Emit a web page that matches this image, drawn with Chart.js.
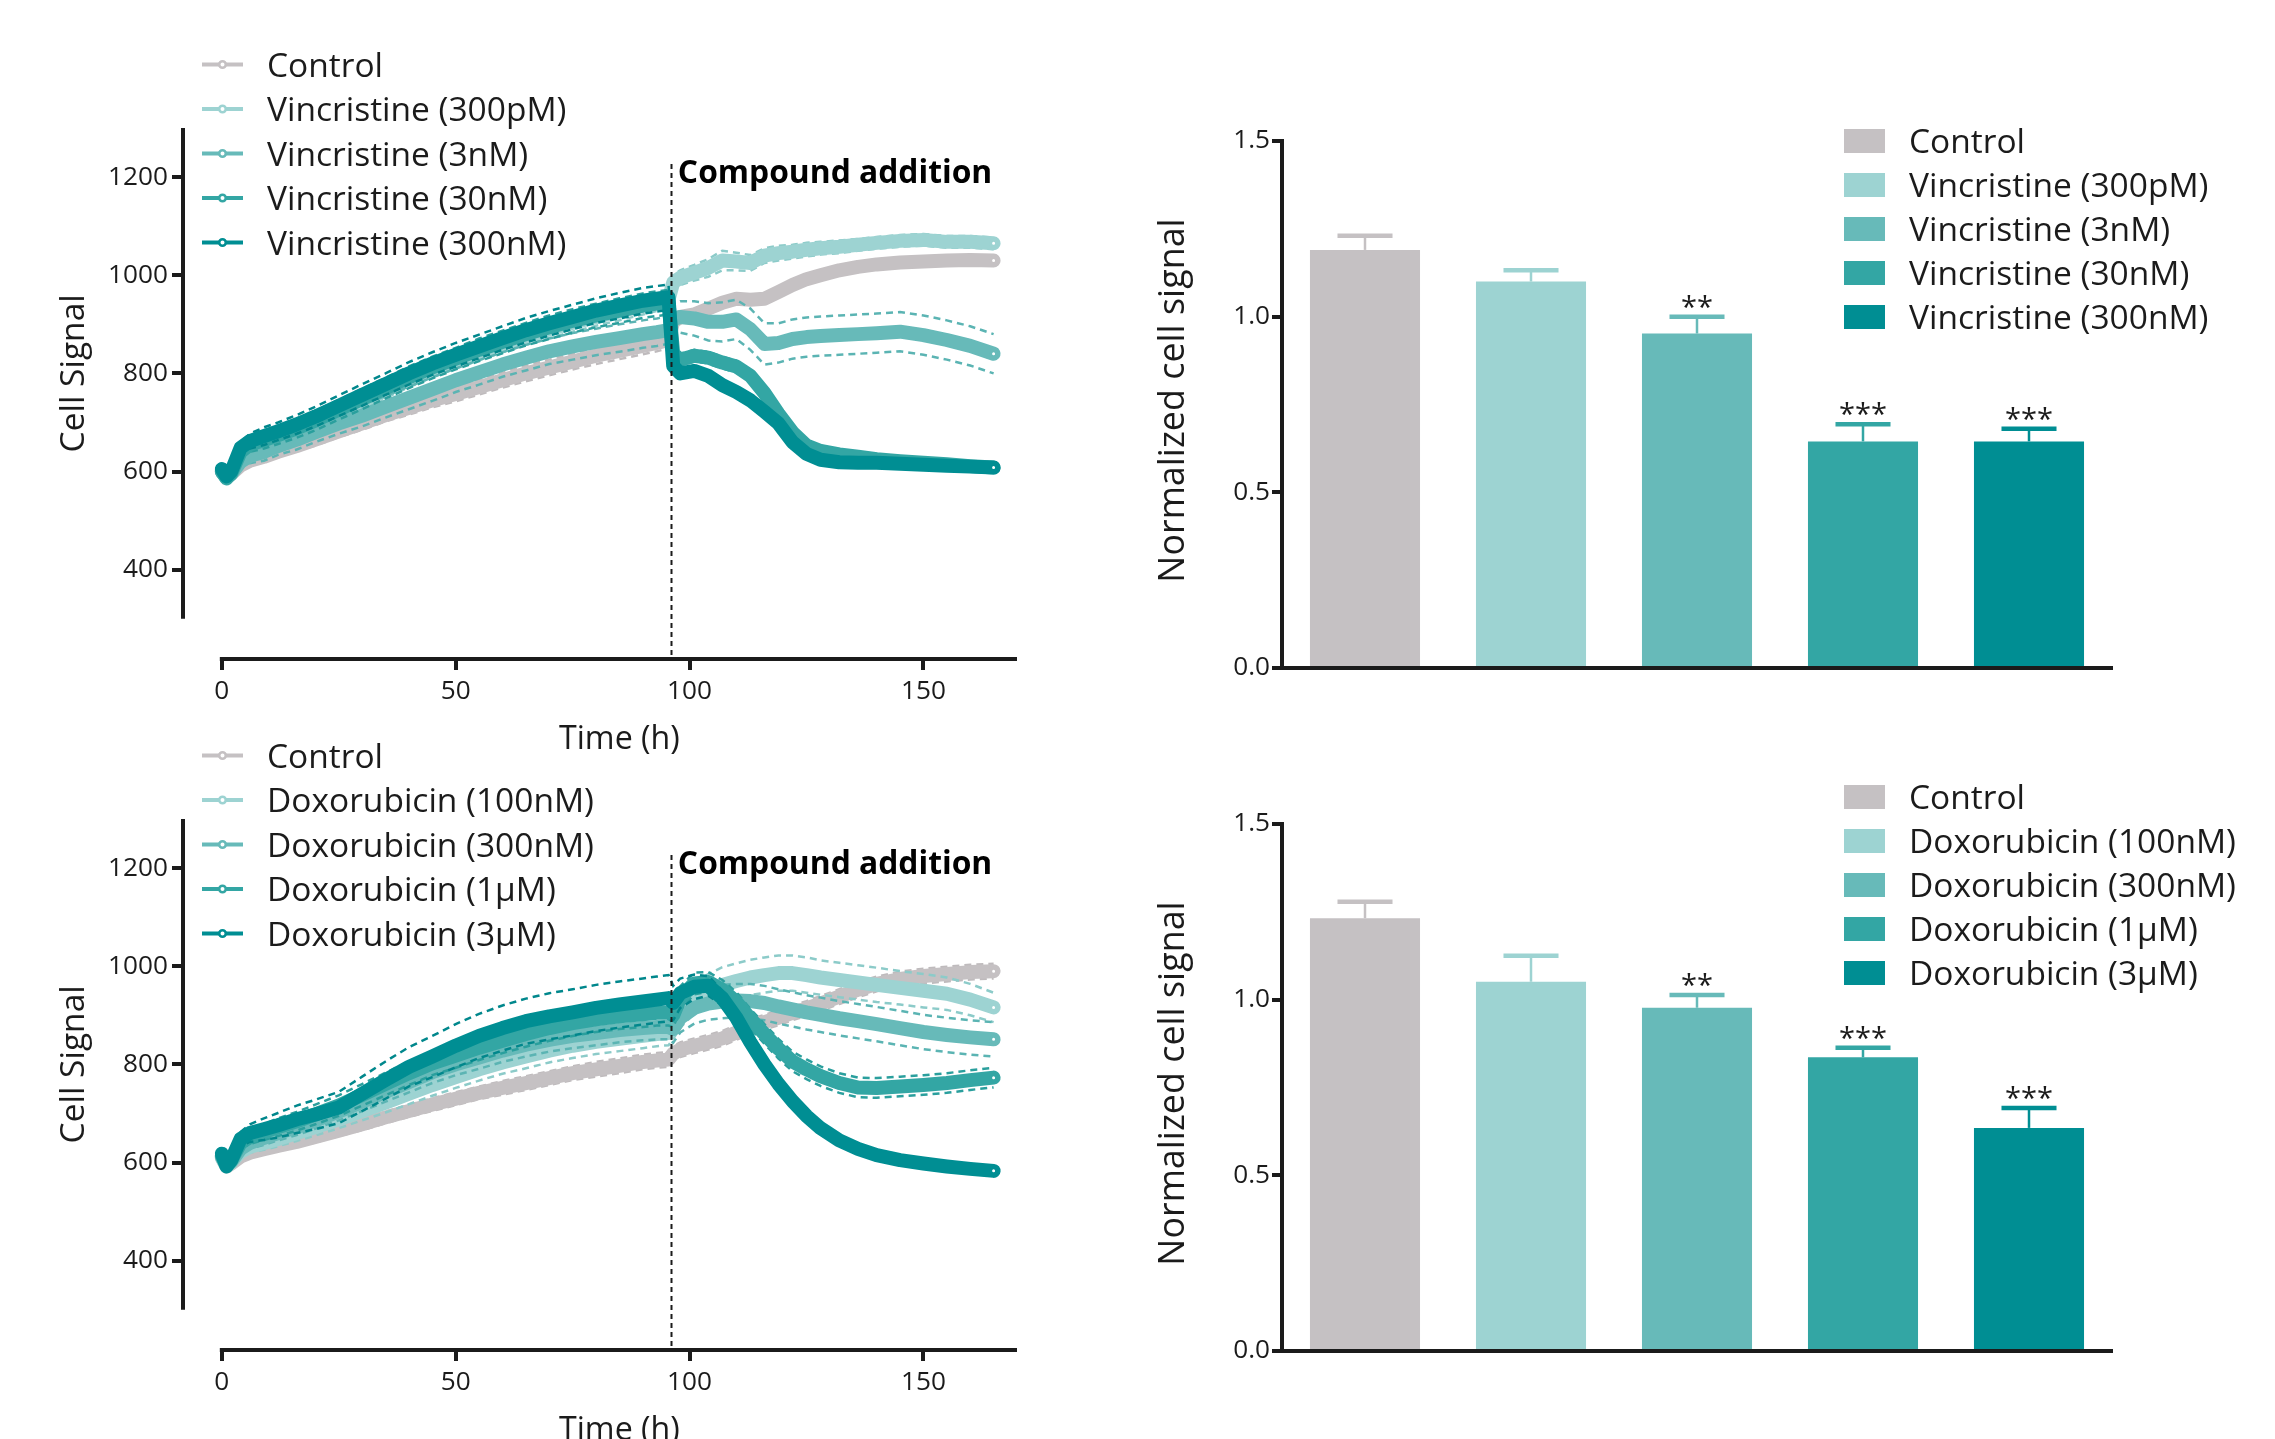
<!DOCTYPE html>
<html>
<head>
<meta charset="utf-8">
<title>Cell signal – vincristine / doxorubicin</title>
<script src="https://cdn.jsdelivr.net/npm/chart.js@4.4.1/dist/chart.umd.min.js"></script>
<style>
    html, body { margin: 0; padding: 0; background: #ffffff; }
    body { width: 2275px; height: 1439px; overflow: hidden; position: relative; }
    canvas { position: absolute; }
</style>
</head>
<body>
<canvas id="vinLine" width="1100" height="760" style="left:0;top:0"></canvas>
<canvas id="doxLine" width="1100" height="760" style="left:0;top:691px"></canvas>
<canvas id="vinBar" width="1175" height="700" style="left:1100px;top:0"></canvas>
<canvas id="doxBar" width="1175" height="700" style="left:1100px;top:683px"></canvas>
<script>
// ---- data ----
const hours = [0, 1, 2, 4, 6, 9, 12, 16, 20, 25, 30, 35, 40, 45, 50, 55, 60, 65, 70, 75, 80, 85, 90, 93, 95.5,
    96.5, 98, 101, 104, 107, 110, 113, 116, 119, 122, 125, 128, 132, 136, 140, 145, 150, 155, 160, 165];

const vinLabels = ['Control', 'Vincristine (300pM)', 'Vincristine (3nM)', 'Vincristine (30nM)', 'Vincristine (300nM)'];
const doxLabels = ['Control', 'Doxorubicin (100nM)', 'Doxorubicin (300nM)', 'Doxorubicin (1µM)', 'Doxorubicin (3µM)'];

const vinControl = [600, 588, 595, 612, 622, 630, 640, 652, 665, 682, 698, 715, 730, 745, 758, 772, 786, 800, 812, 824, 836, 846, 856, 862, 868,
    905, 915, 920, 932, 944, 952, 950, 952, 966, 980, 992, 1000, 1010, 1017, 1022, 1026, 1028, 1030, 1031, 1030];
const vin300pM = [600, 588, 598, 630, 645, 655, 665, 680, 698, 720, 742, 765, 788, 808, 826, 844, 860, 875, 890, 903, 915, 926, 938, 945, 950,
    985, 995, 1005, 1015, 1030, 1028, 1025, 1040, 1045, 1048, 1052, 1055, 1058, 1062, 1066, 1070, 1072, 1068, 1068, 1065];
const vin3nM = [600, 588, 595, 620, 632, 640, 652, 665, 680, 698, 714, 732, 750, 768, 786, 802, 818, 832, 845, 855, 864, 872, 880, 884, 888,
    910, 915, 912, 905, 905, 910, 890, 860, 862, 870, 874, 876, 878, 880, 882, 885, 878, 868, 856, 840];
const vin30nM = [600, 586, 596, 640, 655, 664, 674, 688, 704, 726, 748, 770, 792, 812, 830, 848, 864, 880, 894, 907, 918, 928, 938, 942, 945,
    840, 828, 836, 832, 822, 814, 795, 760, 718, 680, 653, 642, 635, 630, 625, 621, 618, 615, 611, 608];
const vin300nM = [605, 590, 600, 648, 662, 672, 682, 696, 712, 734, 756, 778, 800, 820, 838, 855, 872, 888, 902, 915, 928, 938, 948, 952, 955,
    815, 800, 805, 795, 776, 762, 745, 722, 698, 660, 636, 624, 619, 618, 618, 616, 614, 612, 610, 608];

const vinControlSd = [4, 4, 5, 6, 8, 10, 10, 11, 12, 12, 13, 13, 14, 14, 15, 15, 15, 16, 16, 16, 17, 17, 17, 17, 17,
    10, 10, 10, 10, 10, 10, 10, 10, 10, 10, 10, 10, 9, 9, 9, 9, 9, 9, 9, 9];
const vin300pMSd = [5, 5, 6, 8, 10, 12, 12, 13, 14, 14, 15, 15, 16, 16, 16, 17, 17, 17, 18, 18, 18, 18, 18, 18, 18,
    15, 15, 16, 18, 20, 18, 16, 15, 15, 14, 14, 13, 13, 12, 12, 12, 12, 12, 12, 12];
const vin3nMSd = [5, 5, 8, 12, 15, 18, 18, 20, 20, 21, 22, 22, 23, 24, 24, 25, 25, 26, 26, 27, 27, 28, 28, 28, 28,
    30, 32, 35, 38, 40, 40, 42, 42, 40, 40, 40, 40, 40, 40, 40, 40, 40, 40, 40, 40];
const vin30nMSd = [5, 5, 8, 12, 15, 17, 18, 19, 20, 20, 21, 21, 22, 22, 22, 23, 23, 23, 24, 24, 24, 25, 25, 25, 25,
    12, 12, 12, 12, 12, 12, 12, 12, 10, 10, 10, 8, 8, 8, 8, 8, 8, 8, 8, 8];
const vin300nMSd = [5, 5, 8, 12, 15, 18, 18, 19, 20, 21, 22, 22, 23, 23, 24, 24, 24, 25, 25, 25, 25, 26, 26, 26, 26,
    12, 10, 10, 10, 10, 10, 10, 10, 10, 8, 8, 8, 8, 6, 6, 6, 6, 6, 6, 6];

const doxControl = [610, 592, 598, 612, 620, 627, 634, 642, 652, 665, 678, 692, 705, 718, 730, 742, 752, 762, 772, 782, 790, 797, 805, 808, 810,
    822, 830, 838, 845, 853, 865, 877, 886, 895, 905, 914, 924, 938, 952, 964, 974, 980, 984, 988, 990];
const dox100nM = [610, 592, 600, 622, 632, 640, 648, 660, 672, 688, 705, 722, 740, 758, 774, 790, 804, 816, 828, 838, 846, 852, 858, 862, 864,
    880, 905, 935, 950, 962, 970, 977, 982, 986, 986, 982, 977, 972, 967, 962, 956, 950, 944, 932, 916];
const dox300nM = [612, 594, 602, 628, 640, 650, 660, 672, 686, 704, 724, 744, 764, 784, 800, 814, 828, 840, 850, 858, 864, 870, 874, 876, 876,
    872, 895, 915, 924, 928, 930, 929, 925, 918, 912, 906, 901, 894, 888, 882, 874, 866, 860, 855, 851];
const dox1uM = [614, 594, 604, 640, 652, 662, 672, 684, 698, 716, 738, 760, 782, 802, 818, 834, 848, 862, 874, 884, 892, 898, 902, 905, 905,
    900, 935, 965, 968, 952, 927, 893, 862, 832, 806, 790, 776, 762, 753, 752, 755, 758, 762, 768, 773];
const dox3uM = [618, 592, 605, 648, 660, 668, 676, 688, 698, 712, 740, 768, 795, 816, 838, 858, 874, 888, 898, 906, 915, 922, 928, 932, 935,
    925, 945, 958, 960, 935, 895, 845, 800, 760, 725, 695, 670, 645, 628, 615, 605, 598, 592, 587, 583];

const doxControlSd = [4, 4, 5, 6, 8, 9, 10, 10, 11, 11, 12, 12, 12, 13, 13, 13, 14, 14, 14, 14, 15, 15, 15, 15, 15,
    15, 15, 15, 15, 15, 15, 15, 15, 15, 15, 15, 15, 15, 15, 15, 15, 15, 15, 15, 15];
const dox100nMSd = [5, 5, 8, 10, 12, 14, 15, 16, 17, 18, 19, 20, 21, 22, 22, 23, 23, 24, 24, 25, 25, 25, 25, 25, 25,
    28, 30, 32, 34, 36, 36, 36, 36, 36, 36, 36, 35, 35, 35, 35, 34, 34, 33, 32, 30];
const dox300nMSd = [5, 5, 8, 10, 12, 14, 15, 16, 17, 18, 19, 20, 21, 22, 22, 23, 23, 24, 24, 25, 25, 25, 25, 25, 25,
    28, 30, 32, 33, 34, 34, 35, 35, 35, 35, 35, 35, 35, 35, 35, 35, 35, 35, 35, 35];
const dox1uMSd = [5, 5, 8, 12, 14, 16, 18, 19, 20, 21, 22, 23, 24, 24, 25, 25, 25, 26, 26, 26, 26, 26, 26, 26, 26,
    24, 24, 22, 20, 20, 20, 20, 20, 20, 20, 20, 20, 20, 20, 20, 20, 20, 20, 20, 20];
const dox3uMSd = [6, 6, 10, 14, 18, 22, 25, 28, 30, 32, 35, 38, 40, 42, 44, 45, 46, 46, 47, 47, 47, 47, 47, 47, 47,
    35, 30, 25, 20, 15, 12, 10, 8, 8, 8, 6, 6, 6, 6, 5, 5, 5, 5, 5, 5];

// bar charts: normalized cell signal, mean and upper error
const vinBarMeans = [1.19, 1.10, 0.952, 0.645, 0.645];
const vinBarErrors = [0.04, 0.032, 0.048, 0.049, 0.036];
const vinBarStars = ['', '', '**', '***', '***'];
const doxBarMeans = [1.232, 1.051, 0.977, 0.836, 0.635];
const doxBarErrors = [0.047, 0.074, 0.036, 0.027, 0.057];
const doxBarStars = ['', '', '**', '***', '***'];

const lineYTicks = [400, 600, 800, 1000, 1200];
const lineXTicks = [0, 50, 100, 150];
const barYTicks = [0, 0.5, 1.0, 1.5];
const additionTime = 96;

// ---- style ----
const seriesColors = ['#c5c1c3', '#9dd3d2', '#67bab9', '#33a6a4', '#008e93'];
const dashColors = ['#bfbbbd', '#8ccbc9', '#5bb4b3', '#2a9f9d', '#00878c'];
const INK = '#1b1b1b';
const FAMILY = '"Open Sans", "DejaVu Sans", sans-serif';

const measureCtx = document.createElement('canvas').getContext('2d');
function fitFont(text, target, weight) {
    measureCtx.font = `${weight || 'normal'} 100px ${FAMILY}`;
    return Math.round(1000 * target / measureCtx.measureText(text).width) / 10;
}
const legendSize = fitFont('Vincristine (300pM)', 299);
const tickSize = fitFont('1200', 60);
const yTitleSize = fitFont('Cell Signal', 158);
const xTitleSize = fitFont('Time (h)', 121);
const barTitleSize = fitFont('Normalized cell signal', 364);
const addSize = fitFont('Compound addition', 314, 'bold');
const starSize = fitFont('***', 48);

function drawCenteredText(ctx, text, x, cy) {
    const m = ctx.measureText(text);
    ctx.fillText(text, x, cy + (m.actualBoundingBoxAscent - m.actualBoundingBoxDescent) / 2);
}

// ---- line panels ----
const linePanelPlugin = {
    id: 'linePanel',
    afterDatasetsDraw(chart) {
        const {ctx, chartArea, scales: {x}} = chart;
        const px = Math.round(x.getPixelForValue(additionTime)) + 0.5;
        ctx.save();
        ctx.strokeStyle = INK;
        ctx.lineWidth = 2;
        ctx.setLineDash([5, 4]);
        ctx.beginPath();
        ctx.moveTo(px, chartArea.top + 36);
        ctx.lineTo(px, chartArea.bottom);
        ctx.stroke();
        ctx.restore();
    },
    afterDraw(chart, args, opts) {
        const {ctx, chartArea, scales: {x, y}} = chart;
        ctx.save();
        ctx.strokeStyle = INK;
        ctx.lineWidth = 4;
        ctx.beginPath();
        ctx.moveTo(chartArea.left, y.getPixelForValue(300));
        ctx.lineTo(chartArea.left, y.getPixelForValue(1300));
        ctx.moveTo(x.getPixelForValue(0) - 2, chartArea.bottom);
        ctx.lineTo(x.getPixelForValue(170), chartArea.bottom);
        ctx.stroke();

        ctx.fillStyle = '#000000';
        ctx.font = `bold ${addSize}px ${FAMILY}`;
        ctx.textAlign = 'left';
        ctx.textBaseline = 'alphabetic';
        ctx.fillText('Compound addition', x.getPixelForValue(additionTime) + 7, chartArea.top + 55);

        ctx.fillStyle = INK;
        ctx.font = `${yTitleSize}px ${FAMILY}`;
        ctx.textAlign = 'center';
        ctx.save();
        ctx.translate(75, (y.getPixelForValue(300) + y.getPixelForValue(1300)) / 2);
        ctx.rotate(-Math.PI / 2);
        drawCenteredText(ctx, 'Cell Signal', 0, 0);
        ctx.restore();

        ctx.font = `${xTitleSize}px ${FAMILY}`;
        drawCenteredText(ctx, 'Time (h)', (x.getPixelForValue(0) + x.getPixelForValue(170)) / 2, 739);

        // legend
        ctx.font = `${legendSize}px ${FAMILY}`;
        ctx.textAlign = 'left';
        opts.labels.forEach((label, i) => {
            const ry = 64.5 + i * 44.5;
            ctx.strokeStyle = seriesColors[i];
            ctx.lineWidth = 4;
            ctx.beginPath();
            ctx.moveTo(202, ry);
            ctx.lineTo(243, ry);
            ctx.stroke();
            ctx.beginPath();
            ctx.arc(222.5, ry, 3.3, 0, Math.PI * 2);
            ctx.fillStyle = '#ffffff';
            ctx.fill();
            ctx.lineWidth = 2.6;
            ctx.stroke();
            ctx.fillStyle = INK;
            const m = ctx.measureText('C');
            ctx.fillText(label, 267, ry + m.actualBoundingBoxAscent / 2);
        });
        ctx.restore();
    }
};

function buildLineDatasets(series, sds, labels) {
    const sets = [];
    const last = hours.length - 1;
    series.forEach((vals, i) => {
        const color = seriesColors[i];
        const order = (series.length - i) * 2;
        sets.push({
            label: labels[i],
            data: hours.map((h, k) => ({x: h, y: vals[k]})),
            borderColor: color,
            borderWidth: 14,
            borderCapStyle: 'round',
            borderJoinStyle: 'round',
            tension: 0,
            order: order,
            pointRadius: ctx => ctx.dataIndex === last ? 3 : 0,
            pointBorderWidth: 3,
            pointBackgroundColor: '#ffffff',
            pointBorderColor: color
        });
        [1, -1].forEach(sign => {
            sets.push({
                label: labels[i] + (sign > 0 ? ' +SD' : ' -SD'),
                data: hours.map((h, k) => ({x: h, y: vals[k] + sign * sds[i][k]})),
                borderColor: dashColors[i],
                borderWidth: 2.5,
                borderDash: [7, 5],
                tension: 0,
                pointRadius: 0,
                order: order + 1
            });
        });
    });
    return sets;
}

function lineConfig(series, sds, labels) {
    const tickStyle = {display: true, drawOnChartArea: false, drawTicks: true, tickLength: 11, lineWidth: 4, color: INK};
    return {
        type: 'line',
        data: {datasets: buildLineDatasets(series, sds, labels)},
        options: {
            responsive: false,
            animation: false,
            events: [],
            layout: {padding: {top: 128, right: 83, left: 0, bottom: 0}, autoPadding: false},
            plugins: {legend: {display: false}, tooltip: {enabled: false}, linePanel: {labels: labels}},
            scales: {
                x: {
                    type: 'linear', min: -8.3, max: 170,
                    afterBuildTicks: s => { s.ticks = lineXTicks.map(v => ({value: v})); },
                    afterFit: s => { s.height = 101; },
                    grid: tickStyle,
                    border: {display: false},
                    ticks: {color: INK, padding: 6, maxRotation: 0, font: {family: FAMILY, size: tickSize}, callback: v => String(v)}
                },
                y: {
                    type: 'linear', min: 218, max: 1300,
                    afterBuildTicks: s => { s.ticks = lineYTicks.map(v => ({value: v})); },
                    afterFit: s => { s.width = 183; },
                    grid: tickStyle,
                    border: {display: false},
                    ticks: {color: INK, padding: 4, font: {family: FAMILY, size: tickSize}, callback: v => String(v)}
                }
            }
        },
        plugins: [linePanelPlugin]
    };
}

// ---- bar panels ----
const barPanelPlugin = {
    id: 'barPanel',
    afterDatasetsDraw(chart, args, opts) {
        const {ctx, scales: {y}} = chart;
        const bars = chart.getDatasetMeta(0).data;
        ctx.save();
        bars.forEach((bar, i) => {
            const top = y.getPixelForValue(opts.means[i]);
            const capY = y.getPixelForValue(opts.means[i] + opts.errors[i]);
            const half = bar.width / 4;
            ctx.strokeStyle = seriesColors[i];
            ctx.lineWidth = 2.5;
            ctx.beginPath();
            ctx.moveTo(bar.x, top);
            ctx.lineTo(bar.x, capY);
            ctx.stroke();
            ctx.lineWidth = 4.5;
            ctx.beginPath();
            ctx.moveTo(bar.x - half, capY);
            ctx.lineTo(bar.x + half, capY);
            ctx.stroke();
            if (opts.stars[i]) {
                ctx.fillStyle = INK;
                ctx.font = `${starSize}px ${FAMILY}`;
                ctx.textAlign = 'center';
                drawCenteredText(ctx, opts.stars[i], bar.x, capY - 15);
            }
        });
        ctx.restore();
    },
    afterDraw(chart, args, opts) {
        const {ctx, chartArea} = chart;
        ctx.save();
        ctx.fillStyle = INK;
        ctx.font = `${barTitleSize}px ${FAMILY}`;
        ctx.textAlign = 'center';
        ctx.save();
        ctx.translate(75, (chartArea.top + chartArea.bottom) / 2 - 4);
        ctx.rotate(-Math.PI / 2);
        drawCenteredText(ctx, 'Normalized cell signal', 0, 0);
        ctx.restore();

        ctx.font = `${legendSize}px ${FAMILY}`;
        ctx.textAlign = 'left';
        const capH = ctx.measureText('C').actualBoundingBoxAscent;
        opts.labels.forEach((label, i) => {
            const ry = opts.legendTop + i * 44;
            ctx.fillStyle = seriesColors[i];
            ctx.fillRect(744, ry - 12, 41, 24);
            ctx.fillStyle = INK;
            ctx.fillText(label, 809, ry + capH / 2);
        });
        ctx.restore();
    }
};

function barConfig(means, errors, stars, labels, legendTop) {
    return {
        type: 'bar',
        data: {
            labels: labels,
            datasets: [{
                data: means,
                backgroundColor: seriesColors,
                borderWidth: 0,
                barPercentage: 0.663,
                categoryPercentage: 1
            }]
        },
        options: {
            responsive: false,
            animation: false,
            events: [],
            layout: {padding: {top: 141, right: 163, left: 0, bottom: 0}, autoPadding: false},
            plugins: {
                legend: {display: false},
                tooltip: {enabled: false},
                barPanel: {means: means, errors: errors, stars: stars, labels: labels, legendTop: legendTop}
            },
            scales: {
                x: {
                    afterFit: s => { s.height = 32; },
                    grid: {display: false},
                    ticks: {display: false},
                    border: {display: true, width: 4, color: INK}
                },
                y: {
                    min: 0, max: 1.5,
                    afterBuildTicks: s => { s.ticks = barYTicks.map(v => ({value: v})); },
                    afterFit: s => { s.width = 182; },
                    grid: {display: true, drawOnChartArea: false, drawTicks: true, tickLength: 10, lineWidth: 4, color: INK},
                    border: {display: true, width: 4, color: INK},
                    ticks: {color: INK, padding: 2, font: {family: FAMILY, size: tickSize}, callback: v => v.toFixed(1)}
                }
            }
        },
        plugins: [barPanelPlugin]
    };
}

new Chart(document.getElementById('vinLine'), lineConfig(
    [vinControl, vin300pM, vin3nM, vin30nM, vin300nM],
    [vinControlSd, vin300pMSd, vin3nMSd, vin30nMSd, vin300nMSd], vinLabels));
new Chart(document.getElementById('doxLine'), lineConfig(
    [doxControl, dox100nM, dox300nM, dox1uM, dox3uM],
    [doxControlSd, dox100nMSd, dox300nMSd, dox1uMSd, dox3uMSd], doxLabels));
new Chart(document.getElementById('vinBar'), barConfig(vinBarMeans, vinBarErrors, vinBarStars, vinLabels, 141));
new Chart(document.getElementById('doxBar'), barConfig(doxBarMeans, doxBarErrors, doxBarStars, doxLabels, 114));
</script>
</body>
</html>
